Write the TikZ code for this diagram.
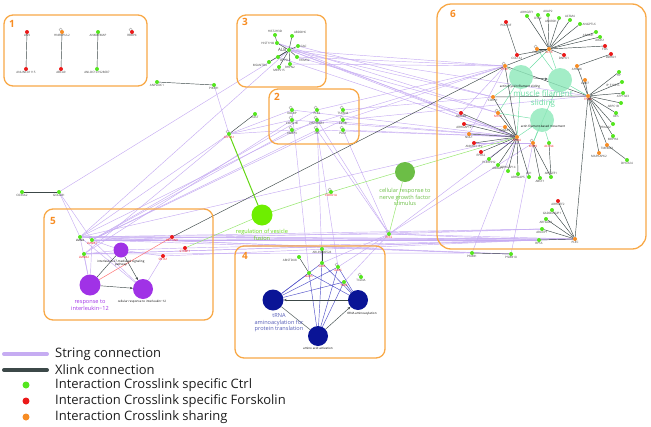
\documentclass[tikz,border=0pt]{standalone}
\usepackage{fontspec}
\setmainfont{Open Sans}
\usetikzlibrary{arrows.meta,backgrounds}
\definecolor{cg}{RGB}{84,230,30}
\definecolor{cr}{RGB}{235,25,25}
\definecolor{co}{RGB}{247,140,35}
\definecolor{bor}{RGB}{248,168,70}
\definecolor{strc}{RGB}{198,172,242}
\definecolor{xlc}{RGB}{60,72,72}
\definecolor{vesc}{RGB}{110,238,0}
\definecolor{vest}{RGB}{100,215,20}
\definecolor{ngfc}{RGB}{108,190,70}
\definecolor{purc}{RGB}{160,50,230}
\definecolor{navc}{RGB}{10,20,150}
\definecolor{blc}{RGB}{80,80,200}
\definecolor{tealc}{RGB}{140,232,185}
\definecolor{tealt}{RGB}{110,222,165}
\definecolor{lgc}{RGB}{150,230,110}
\definecolor{nbl}{RGB}{60,60,60}
\definecolor{legt}{RGB}{30,30,30}
\tikzset{
 nd/.style={circle,inner sep=0pt,minimum size=4pt},
 gn/.style={nd,fill=cg},
 rn/.style={nd,fill=cr},
 on/.style={nd,fill=co},
 lb/.style={font=\fontsize{3}{3.4}\selectfont,text=nbl,inner sep=0.3pt},
 rl/.style={lb,text=cr},
 strl/.style={draw=strc,line width=0.45pt},
 xl/.style={draw=xlc,line width=0.45pt},
 bll/.style={draw=blc,line width=0.45pt},
 tl/.style={draw=tealt,line width=0.45pt},
 grp/.style={draw=bor,line width=1.3pt,rounded corners=9pt},
 num/.style={font=\bfseries\fontsize{10}{10}\selectfont,text=co},
 slp/.style={draw=gray!80,line width=0.35pt},
 arr/.style={xl,-{Stealth[length=3pt,width=2.4pt]}},
 golbl/.style={font=\fontsize{5.6}{6.6}\selectfont,align=center,inner sep=0pt},
 tinyl/.style={font=\fontsize{3}{3.4}\selectfont,text=black,align=center,inner sep=0pt},
 legl/.style={anchor=west,font=\fontsize{13}{13}\selectfont,text=legt,inner sep=0pt},
}
\newcommand\selfloop[1]{\draw[slp] ([shift={(-1.4,-2.4)}]#1.center) circle (1.6pt);}
\begin{document}
\begin{tikzpicture}[x=1pt,y=-1pt]
\useasboundingbox (0,0) rectangle (651,426);
% group boxes
\draw[grp] (4,15) rectangle (147,86);
\draw[grp] (237,15) rectangle (326,87);
\draw[grp] (269,89) rectangle (359,144);
\draw[grp] (235,246) rectangle (385,358);
\draw[grp] (44,209) rectangle (213,320);
\draw[grp,rounded corners=14pt] (437,4) rectangle (646,249);
\node[num] (g1) at (12,24) {1};
\node[num] (g3) at (245,22) {3};
\node[num] (g2) at (277,97) {2};
\node[num] (g4) at (245,256) {4};
\node[num] (g5) at (53,221) {5};
\node[num] (g6) at (453,14) {6};
% box 1
\node[rn,label={[lb]below:LIN9}] (lin) at (27,32) {};
\node[rn,label={[lb]below:ANLINC01115}] (linc) at (26,69) {};
\node[on,label={[lb]below:HNRNPUL2}] (hnr) at (62,32) {};
\node[rn,label={[lb]below:ABCA9}] (abca) at (61,69) {};
\node[gn,label={[lb]below:ANKMEMAP}] (ankm) at (98,32) {};
\node[gn,label={[lb]below:ANLOC101928687}] (aloc) at (97,69) {};
\node[rn,label={[lb]below:RBBP4}] (rbbp) at (132,32) {};
% middle
\node[gn,label={[lb]below:ANPLIDC1}] (anpl) at (157,82) {};
\node[gn,label={[lb]below:PIK3R1}] (pik) at (214,85) {};
\node[gn,label={[lb]below:CAST}] (cast) at (255,114) {};
\node[gn,label={[rl]below:ATP2A1}] (atp) at (229,134) {};
\node[gn,label={[lb]below:COX6A2}] (cox) at (22,192) {};
\node[gn,label={[lb]below:GOLGB1}] (golg) at (59,192) {};
\node[gn,label={[rl]below:CORO1A}] (coro) at (331,192) {};
\node[gn,label={[rl]below:EEF2}] (eef2) at (389,234) {};
\node[circle,fill=vesc,minimum size=21pt,inner sep=0pt] (vesc) at (262,215) {};
\node[golbl,text=vest] (vescl) at (262,235) {regulation of vesicle\\fusion};
\node[circle,fill=ngfc,minimum size=20pt,inner sep=0pt] (ngf) at (405,172) {};
\node[golbl,text=ngfc] (ngfl) at (405,197) {cellular response to\\nerve growth factor\\stimulus};
% box 3
\node[gn,label={[lb]above:HIST2H3D}] (hist3) at (275,35) {};
\node[gn,label={[lb]above right:ABDDH6}] (abdd) at (292,36) {};
\node[gn,label={[lb]left:HIST1H4I}] (hist1) at (277,43) {};
\node[gn,label={[lb,font=\fontsize{4.5}{5}\selectfont]left:ALB}] (alb) at (289,50) {};
\node[gn,label={[lb]right:GAC}] (gac) at (298,46) {};
\node[gn,label={[lb]below right:TRIM32}] (trim) at (297,57) {};
\node[gn,label={[lb]below right:DPYSL2}] (dpysl) at (278,57) {};
\node[gn,label={[lb]below left:MSANTD4}] (msant) at (269,62) {};
\node[gn,label={[lb]below:MRPS15}] (mrps) at (279,67) {};
\node[gn,label={[lb]below:RHPN2}] (rhpn) at (290,64) {};
% box 2
\node[gn,label={[lb]below:KOLBP}] (kolbp) at (292,110) {};
\node[gn,label={[lb]below:PLK2}] (plk) at (317,110) {};
\node[gn,label={[lb]below:TSPAN4}] (tspan) at (343,110) {};
\node[gn,label={[lb]below:COPG1B}] (copg) at (292,120) {};
\node[gn,label={[lb]below:HSP90AB1}] (hsp) at (317,120) {};
\node[gn,label={[lb]below:EIF3B}] (eif) at (343,120) {};
\node[gn,label={[lb]below:VAMP3}] (vamp) at (292,130) {};
\node[gn,label={[lb]below:TKT}] (tkt) at (317,130) {};
\node[gn,label={[lb]below:PAK1}] (pak) at (343,130) {};
% box 5
\node[gn,label={[lb,text=black]below:LMNA}] (lmna) at (80,237) {};
\node[gn,label={[rl]below:LMNB1}] (lmnb1) at (92,240) {};
\node[gn,label={[rl]below:LMNB2}] (lmnb2) at (84,254) {};
\node[rn,label={[rl]below:SEPTIN9}] (sept) at (172,237) {};
\node[rn,label={[rl]below:STXBP1}] (stx) at (185,248) {};
\node[rn,label={[rl]below:SNTA1}] (snta) at (163,256) {};
\node[circle,fill=purc,minimum size=15pt,inner sep=0pt] (il27) at (121,250) {};
\node[tinyl] (il27l) at (121,263) {interleukin-27-mediated signaling\\pathway};
\node[circle,fill=purc,minimum size=21pt,inner sep=0pt] (il12) at (90,285) {};
\node[golbl,text=purc] (il12l) at (90,305) {response to\\interleukin−12};
\node[circle,fill=purc,minimum size=20pt,inner sep=0pt] (cil12) at (143,289) {};
\node[tinyl] (cil12l) at (142,302) {cellular response to interleukin−12};
% box 4
\node[gn,label={[lb]below:ARLINC00524}] (arl) at (322,249) {};
\node[gn,label={[lb]below left:ABISTDU8}] (abi) at (299,257) {};
\node[gn,label={[rl]below:SARS}] (sars) at (322,263) {};
\node[gn,label={[rl]below:AARS}] (aars) at (338,267) {};
\node[gn,label={[rl]below:GARS}] (gars) at (309,273) {};
\node[gn,label={[rl]below:YARS}] (yars) at (344,282) {};
\node[gn,label={[lb]below:TXLNA}] (txlna) at (361,277) {};
\node[circle,fill=navc,minimum size=21pt,inner sep=0pt] (trna) at (273,300) {};
\node[golbl,text=navc!70!white] (trnal) at (279,323) {tRNA\\aminoacylation for\\protein translation};
\node[circle,fill=navc,minimum size=20pt,inner sep=0pt] (trnaa) at (358,300) {};
\node[tinyl] (trnaal) at (362,314) {tRNA aminoacylation};
\node[circle,fill=navc,minimum size=20pt,inner sep=0pt] (aaact) at (318,336) {};
\node[tinyl] (aaactl) at (318,348) {amino acid activation};
% box 6
\node[circle,fill=tealc,fill opacity=0.8,minimum size=24pt,inner sep=0pt] (am) at (521,77) {};
\node[circle,fill=tealc,fill opacity=0.8,minimum size=24pt,inner sep=0pt] (c2) at (560,80) {};
\node[circle,fill=tealc,fill opacity=0.8,minimum size=24pt,inner sep=0pt] (afm) at (542,120) {};
\node[tinyl] (aml) at (520,87) {actin-myosin filament sliding};
\node[tinyl] (afml) at (543,126) {actin filament-based movement};
\node[golbl,text=tealt,font=\fontsize{8}{8.5}\selectfont] (msl) at (543,99) {muscle filament\\sliding};
\node[rn,label={[lb]below:POLR3F}] (polr) at (506,22) {};
\node[gn,label={[lb]above:ARHGEF1}] (arhgef) at (527,16) {};
\node[gn,label={[lb]below:DTX2}] (dtx) at (538,15) {};
\node[gn,label={[lb]above:AKAP2}] (akap) at (548,15) {};
\node[gn,label={[lb]below left:ANKRD1}] (ankrd) at (559,18) {};
\node[gn,label={[lb]above:ACSM4}] (acsm) at (570,20) {};
\node[gn,label={[lb]right:ANGPTL6}] (ansl) at (580,24) {};
\node[gn,label={[lb]below left:ARAB31}] (arab) at (596,32) {};
\node[gn,label={[lb]below:ARAS1}] (aras) at (600,37) {};
\node[rn,label={[lb]below:FOS}] (fos) at (605,46) {};
\node[rn,label={[lb]below:DDHD1}] (ddhd) at (611,54) {};
\node[rn,label={[lb]below:COL1A1}] (col) at (517,55) {};
\node[on,label={[lb]below:CALD1}] (cald) at (537,49) {};
\node[on,label={[rl]below:ACTB}] (actb) at (549,49) {};
\node[rn,label={[lb]below:DNHC1}] (dnhc) at (564,55) {};
\node[on,label={[lb]below:AHNAK}] (ahnak) at (577,66) {};
\node[on,label={[rl]below:TPM1}] (tpm1) at (505,66) {};
\node[on,label={[lb]below:LMO7}] (lmo) at (585,80) {};
\node[on,label={[rl]below:TPM2}] (tpm2) at (588,96) {};
\node[on,label={[lb]below:CDH11}] (cdh) at (493,97) {};
\node[on,label={[rl]below:MYL9}] (myl) at (498,113) {};
\node[rn,label={[lb]below:ARID4B}] (arid) at (461,113) {};
\node[rn,label={[lb]below:ARHGAP12}] (arhg13) at (464,124) {};
\node[on,label={[lb]below:NOL1}] (nol) at (469,134) {};
\node[on,label={[lb]below:IQGAP1}] (iqg) at (505,127) {};
\node[on,label={[rl]below:TPM4}] (tpm4) at (517,137) {};
\node[rn,label={[lb]below:ANKRD11P2}] (rnu) at (474,143) {};
\node[rn,label={[lb]below:EPRS2}] (eprs) at (481,152) {};
\node[gn,label={[lb]below:PLEKHH2}] (plek) at (489,159) {};
\node[gn,label={[lb]below:ABRAP1}] (abr) at (498,165) {};
\node[gn,label={[lb]above:ARHGAP14}] (arb14) at (508,171) {};
\node[gn,label={[lb]below:ARHGAP5}] (ahr5) at (518,174) {};
\node[gn,label={[lb]above:LIX1}] (lix) at (529,177) {};
\node[on,label={[rl]below:MYH9}] (myh) at (533,143) {};
\node[gn,label={[rl]below:ACTN4}] (actn) at (549,143) {};
\node[gn,label={[lb]below:ABCF1}] (abcf) at (540,178) {};
\node[gn,label={[lb]above:ARFGEF1}] (arfg) at (551,177) {};
\node[rn,label={[lb]below:ARHGEF2}] (arhg2) at (558,201) {};
\node[gn,label={[lb]below:GADD45GIP1}] (gadd) at (552,210) {};
\node[gn,label={[lb]below:ARFGAP2}] (arfgap) at (546,219) {};
\node[gn,label={[lb]below:ARL6IP1}] (arl6) at (542,229) {};
\node[gn,label={[lb]below:RPS6}] (rps6) at (539,240) {};
\node[on,label={[lb]below:PLEC}] (plec) at (575,239) {};
\node[gn,label={[lb]below:PSMB1}] (psmb1) at (472,253) {};
\node[gn,label={[lb]below:PSMB10}] (psmb10) at (511,254) {};
\node[gn,label={[lb]below:HP}] (hp) at (619,72) {};
\node[gn,label={[lb]below left:IP\_F1027L}] (ipf) at (622,82) {};
\node[gn,label={[lb]below:ATP13A3}] (atp13) at (623,93) {};
\node[gn,label={[lb]below left:ARPC1B}] (arpc) at (621,103) {};
\node[gn,label={[lb]below:DES}] (des) at (616,113) {};
\node[gn,label={[lb]below left:PRKAA2}] (prk) at (613,124) {};
\node[gn,label={[lb]below:MEPHA}] (mepha) at (613,136) {};
\node[on,label={[lb]below:TMEM43}] (tmem) at (607,145) {};
\node[on,label={[lb]below:MAPKAPK2}] (mapk) at (599,153) {};
\node[gn,label={[lb]below:DHCR24}] (dhcr) at (627,160) {};
% legend
\coordinate (s1) at (4,354); \coordinate (s2) at (47,354);
\coordinate (x1) at (4,370); \coordinate (x2) at (47,370);
\draw[strc,line width=4pt,line cap=round] (s1) -- (s2);
\draw[xlc,line width=4pt,line cap=round] (x1) -- (x2);
\node[circle,fill=cg,minimum size=7pt,inner sep=0pt] (lg) at (26,385) {};
\node[circle,fill=cr,minimum size=7pt,inner sep=0pt] (lr) at (26,401) {};
\node[circle,fill=co,minimum size=7pt,inner sep=0pt] (lo) at (26,417) {};
\node[legl] (t1) at (55,354) {String connection};
\node[legl] (t2) at (55,370) {Xlink connection};
\node[legl] (t3) at (55,385) {Interaction Crosslink specific Ctrl};
\node[legl] (t4) at (55,401) {Interaction Crosslink specific Forskolin};
\node[legl] (t5) at (55,417) {Interaction Crosslink sharing};
% edges
\begin{scope}[on background layer]
\foreach \n in {hnr,rbbp,atp,coro,eef2,kolbp,plk,tspan,copg,hsp,eif,vamp,tkt,pak,lmnb1,aars,txlna,cald,tpm1,myl,myh}{\selfloop{\n}}
% string connections
\foreach \a/\b in {lmna/alb,lmna/hsp,lmna/tpm4,lmna/rps6,lmna/eef2,lmna/plec,lmnb1/plk,lmnb1/eif,lmnb1/rps6,lmnb1/tkt,lmnb2/copg,lmnb2/plec,lmnb1/vamp,golg/alb,golg/lmnb1,golg/lmna,atp/pik,atp/kolbp,atp/copg,atp/vamp,atp/lmna,atp/lmnb2,alb/tpm4,alb/tpm1,alb/cdh,alb/arid,dpysl/tpm4,trim/tpm1,hist1/myl,kolbp/tpm4,plk/tpm1,tspan/cdh,hsp/tpm4,eif/tpm2,tkt/eef2,pak/tpm4,hsp/eef2,copg/tpm4,eif/tpm1,eef2/plec,eef2/rps6,eef2/sars,eef2/aars,eef2/tpm4,eef2/myh,eef2/pak,sars/hsp,aars/tkt,gars/kolbp,yars/eef2,psmb1/tpm4,psmb10/myh,psmb1/lmna,stx/rps6,sept/plec,snta/rps6,lmna/il12,lmnb1/il12,lmnb2/il12,lmnb2/il27,lmnb1/cil12,lmnb1/il27,snta/cil12,snta/il27,lmna/cil12,stx/il27,arid/tpm1,nol/tpm1,rnu/myh,arhg13/iqg,lmnb1/plec,lmnb2/rps6,lmna/arl6,lmnb1/psmb10,lmnb2/psmb1,lmna/psmb10,lmnb1/arl6,alb/tpm2,hist1/tpm4,gac/cdh,rhpn/tpm1,trim/myl,eef2/arl6,tkt/tpm4,vamp/tpm1}{\draw[strl] (\a) -- (\b);}
% box 4 blue
\foreach \a in {sars,aars,gars,yars}{\draw[bll] (\a) -- (trna); \draw[bll] (\a) -- (trnaa); \draw[bll] (\a) -- (aaact);}
% xlink
\foreach \a/\b in {lin/linc,hnr/abca,ankm/aloc,anpl/pik,atp/cast,cox/golg,hist3/hist1,hist1/alb,abdd/alb,alb/gac,alb/trim,alb/dpysl,alb/msant,alb/mrps,alb/rhpn,il12/il27,trna/aaact,arl/sars,abi/gars,polr/col,ddhd/ahnak,tpm1/tpm4,tpm1/tpm2,cdh/tpm2,cdh/tpm4,myl/tpm4,arid/tpm4,arhg13/tpm4,nol/tpm4,iqg/tpm4,rnu/tpm4,eprs/tpm4,plek/tpm4,abr/tpm4,arb14/tpm4,ahr5/tpm4,lix/tpm4,myh/abcf,myh/arfg,actn/arfg,tmem/dhcr,plec/arhg2,plec/gadd,plec/arfgap,plec/arl6,plec/rps6,psmb1/psmb10,sept/tpm1,tpm1/actb,cald/actb,col/actb,dnhc/actb}{\draw[xl] (\a) -- (\b);}
\foreach \a in {arhgef,dtx,akap,ankrd,acsm,ansl,arab,aras,fos}{\draw[xl] (\a) -- (actb);}
\foreach \a in {hp,ipf,atp13,arpc,des,prk,mepha,tmem,mapk,plec,lmo,ahnak}{\draw[xl] (\a) -- (tpm2);}
% teal
\foreach \a/\b in {am/tpm1,am/cdh,am/tpm4,am/myl,c2/actb,c2/tpm2,c2/cald,afm/tpm4,afm/myh,afm/actn,afm/myl,c2/myh,am/actb}{\draw[tl] (\a) -- (\b);}
% light green / coloured
\draw[draw=vest,line width=1pt] (atp) -- (vesc);
\draw[draw=lgc,line width=0.5pt] (stx) -- (vesc);
\draw[draw=lgc,line width=0.5pt] (vesc) -- (coro);
\draw[draw=lgc,line width=0.5pt] (coro) -- (tpm4);
\draw[draw=lgc,line width=0.5pt] (eef2) -- (ngf);
\draw[draw=red!55,line width=0.5pt] (sept) -- (il12);
\end{scope}
% GO arrows (on top)
\draw[arr] (il12) -- (cil12);
\draw[arr] (il27) -- (cil12);
\draw[arr] (trnaa) -- (trna);
\draw[arr] (aaact) -- (trnaa);
\draw[arr] (am) -- (c2);
\end{tikzpicture}
\end{document}
